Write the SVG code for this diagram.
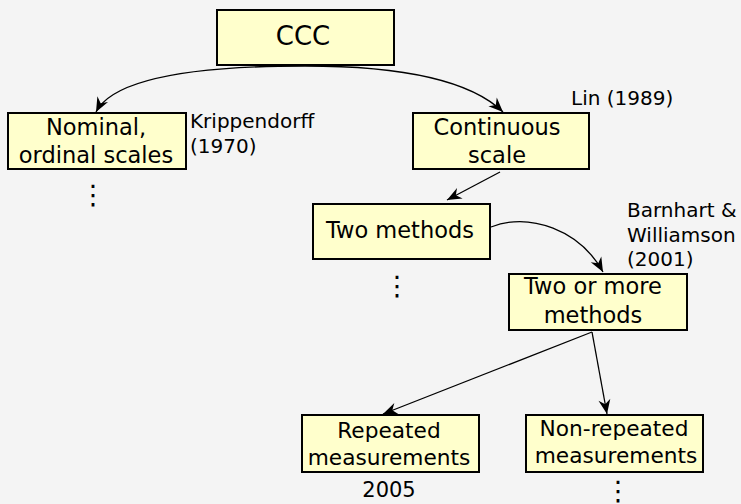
<svg xmlns="http://www.w3.org/2000/svg" width="741" height="504" viewBox="0 0 741 504">
  <style>
    .box { fill: #ffffcc; stroke: #000; stroke-width: 2; }
    .t { font-family: "DejaVu Sans", Verdana, sans-serif; font-size: 22.5px; fill: #000; text-anchor: middle; }
    .tb { font-family: "DejaVu Sans", Verdana, sans-serif; font-size: 21.7px; fill: #000; text-anchor: middle; }
    .note { font-family: "DejaVu Sans", Verdana, sans-serif; font-size: 20px; fill: #000; }
    .dots { font-family: "DejaVu Sans", sans-serif; font-size: 27px; fill: #000; text-anchor: middle; }
    .edge { fill: none; stroke: #000; stroke-width: 1.3; marker-end: url(#arrow); }
  </style>
  <defs>
    <marker id="arrow" markerUnits="userSpaceOnUse" markerWidth="18" markerHeight="16" viewBox="-16 -8 18 16" refX="0" refY="0" orient="auto">
      <path d="M0,0 L-14.5,-6 L-10,0 L-14.5,6 Z" fill="#000"/>
    </marker>
  </defs>
  <rect width="741" height="504" fill="#f4f4f4"/>

  <g id="connectors">
    <path class="edge" d="M305,66 Q120,66 96,112"/>
    <path class="edge" d="M305,66 C400,66 470,80 503,112"/>
    <path class="edge" d="M500,172 L447,200"/>
    <path class="edge" d="M491,227 C530,212 580,230 603,272"/>
    <path class="edge" d="M592,332 L383,414"/>
    <path class="edge" d="M592,332 L607,414"/>
  </g>

  <g id="ccc">
    <rect class="box" x="217" y="10" width="177" height="55"/>
    <text x="303" y="45" class="t" style="font-size:26px">CCC</text>
  </g>

  <g id="nominal">
    <rect class="box" x="8" y="113" width="178" height="56"/>
    <text x="96" y="135" class="t">Nominal,</text>
    <text x="96" y="163" class="t">ordinal scales</text>
    <text x="190" y="128" class="note">Krippendorff</text>
    <text x="190" y="153" class="note">(1970)</text>
    <text x="93" y="204" class="dots">⋮</text>
  </g>

  <g id="continuous">
    <rect class="box" x="413" y="113" width="176" height="56"/>
    <text x="497" y="135" class="t">Continuous</text>
    <text x="497" y="163" class="t">scale</text>
    <text x="571" y="105" class="note">Lin (1989)</text>
  </g>

  <g id="two-methods">
    <rect class="box" x="313" y="204" width="177" height="55"/>
    <text x="400" y="238" class="t">Two methods</text>
    <text x="397" y="295" class="dots">⋮</text>
  </g>

  <g id="two-or-more">
    <rect class="box" x="509" y="274" width="178" height="56"/>
    <text x="593" y="294" class="t">Two or more</text>
    <text x="593" y="323" class="t">methods</text>
    <text x="627" y="217" class="note">Barnhart &amp;</text>
    <text x="627" y="242" class="note">Williamson</text>
    <text x="627" y="266" class="note">(2001)</text>
  </g>

  <g id="repeated">
    <rect class="box" x="302" y="415" width="177" height="57"/>
    <text x="389" y="438" class="tb">Repeated</text>
    <text x="389" y="465" class="tb">measurements</text>
    <text x="389" y="497" class="note" style="text-anchor:middle;font-size:21px">2005</text>
  </g>

  <g id="non-repeated">
    <rect class="box" x="526" y="415" width="177" height="57"/>
    <text x="614" y="436" class="tb">Non-repeated</text>
    <text x="616" y="463" class="tb">measurements</text>
    <text x="618" y="500" class="dots">⋮</text>
  </g>
</svg>
